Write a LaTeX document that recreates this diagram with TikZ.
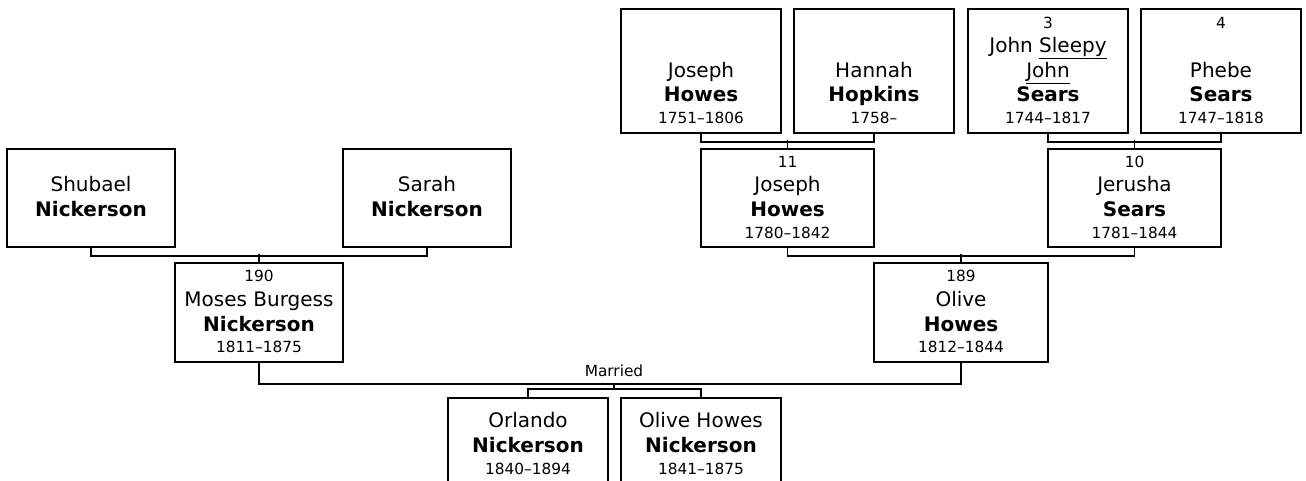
\documentclass[tikz,border=0pt]{standalone}
\usepackage{fontspec}
\setmainfont{DejaVu Sans}
\usepackage{tikz}
\usetikzlibrary{positioning}
\newcommand{\namesz}{\fontsize{15}{18.4}\selectfont}
\newcommand{\smtxt}[1]{{\fontsize{11.5}{18.4}\selectfont #1}\strut}
\tikzset{
  person/.style={rectangle, draw=black, line width=1.4pt, fill=white,
                 inner sep=0pt, align=center, font=\namesz,
                 minimum width=#1},
  person/.default=126pt,
  topbox/.style={person=120pt, minimum height=93pt},
  midbox/.style={person, minimum height=73.5pt},
  kidbox/.style={person=120pt, minimum height=72pt},
  link/.style={line width=1.4pt, black},
  lbl/.style={font=\fontsize{11.5}{13}\selectfont, black},
}
\begin{document}
\begin{tikzpicture}[x=0.75pt, y=-0.75pt]
  \clip (0,0) rectangle (1306,481);
  %% great-grandparents
  \node[topbox] (jhowesSr) at (701,71)
    {\strut\\ \strut\\ Joseph\\ \textbf{Howes}\\[-2pt] \smtxt{1751--1806}};
  \node[topbox] (hhopkins) at (874,71)
    {\strut\\ \strut\\ Hannah\\ \textbf{Hopkins}\\[-2pt] \smtxt{1758--}};
  \node[topbox] (jsears) at (1048,71)
    {\smtxt{3}\\ John \underline{Sleepy}\\ \underline{John}\\ \textbf{Sears}\\[-2pt] \smtxt{1744--1817}};
  \node[topbox] (psears) at (1221,71)
    {\smtxt{4}\\ \strut\\ Phebe\\ \textbf{Sears}\\[-2pt] \smtxt{1747--1818}};
  %% grandparents
  \node[midbox] (shubael) at (91,198)
    {\strut\\ Shubael\\ \textbf{Nickerson}\\[-2pt] \strut};
  \node[midbox] (sarah) at (427,198)
    {\strut\\ Sarah\\ \textbf{Nickerson}\\[-2pt] \strut};
  \node[midbox, minimum width=129.75pt] (jhowes) at (787.5,198)
    {\smtxt{11}\\ Joseph\\ \textbf{Howes}\\[-2pt] \smtxt{1780--1842}};
  \node[midbox, minimum width=129.75pt] (jerusha) at (1134.5,198)
    {\smtxt{10}\\ Jerusha\\ \textbf{Sears}\\[-2pt] \smtxt{1781--1844}};
  %% parents
  \node[midbox, minimum height=74.25pt] (moses) at (259,312.5)
    {\smtxt{190}\\ Moses Burgess\\ \textbf{Nickerson}\\[-2pt] \smtxt{1811--1875}};
  \node[midbox, minimum width=130.5pt, minimum height=74.25pt] (olive) at (961,312.5)
    {\smtxt{189}\\ Olive\\ \textbf{Howes}\\[-2pt] \smtxt{1812--1844}};
  %% children
  \node[kidbox] (orlando) at (528,446)
    {\strut Orlando\\ \textbf{Nickerson}\\[-2pt] \smtxt{1840--1894}};
  \node[kidbox] (oliveh) at (701,446)
    {\strut Olive Howes\\ \textbf{Nickerson}\\[-2pt] \smtxt{1841--1875}};
  %% family lines
  \draw[link] (jhowesSr.south) -- ++(0,8) -| (hhopkins.south);
  \draw[link] (jhowes.north) -- ++(0,-8);
  \draw[link] (jsears.south) -- ++(0,8) -| (psears.south);
  \draw[link] (jerusha.north) -- ++(0,-8);
  \draw[link] (shubael.south) -- ++(0,8) -| (sarah.south);
  \draw[link] (moses.north) -- ++(0,-8);
  \draw[link] (jhowes.south) -- ++(0,8) -| (jerusha.south);
  \draw[link] (olive.north) -- ++(0,-8);
  \draw[link] (moses.south) -- ++(0,21) -| (olive.south);
  \coordinate (wed) at (614,383);
  \node[lbl, above=1.5pt] (wedlbl) at (wed) {Married};
  \draw[link] (orlando.north) -- ++(0,-8) -| (oliveh.north);
  \draw[link] (wed) -- ++(0,7);
\end{tikzpicture}
\end{document}
